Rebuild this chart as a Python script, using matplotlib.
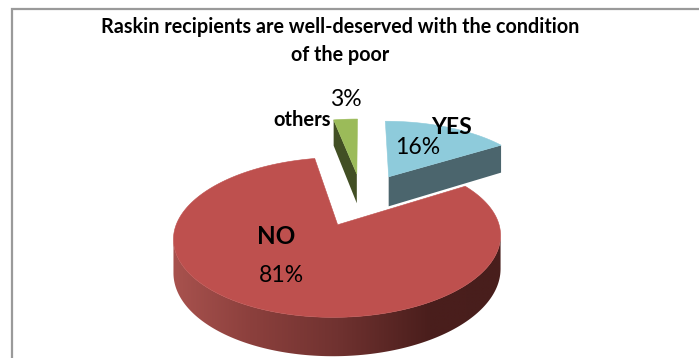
"""pie3d.py: exploded perspective pie of the Raskin survey answers."""
import numpy as np
import matplotlib
matplotlib.use("Agg")
import matplotlib.pyplot as plt
from matplotlib.colors import to_rgb
from matplotlib.patches import Polygon

categories = ["YES", "NO", "others"]
shares = [16, 81, 3]

TITLE = "Raskin recipients are well-deserved with the condition\nof the poor"

TOP_COLORS = ["#8ecbdb", "#be504e", "#9bbb59"]
SIDE_COLORS = ["#4b656d", None, "#424f24"]

# perspective camera, in pixels
CX, CY = 362, 199
SCALE_X, SCALE_Y = 153, 70
PERSP = 0.15
DEPTH = 31
EXPLODE = 0.38


def project(u, v, drop=0.0):
    w = 1 + PERSP * v
    return np.column_stack([CX + SCALE_X * u / w,
                            CY - SCALE_Y * v / w + drop * DEPTH / w])


def wall_gradient():
    # 1 x N image, lighter on the left and dark past the middle
    x = np.linspace(170, 506, 340)
    stops = [174, 250, 338, 430, 502]
    reds = [(168, 82, 78), (140, 64, 61), (112, 50, 48), (74, 30, 28), (72, 30, 28)]
    rgb = [np.interp(x, stops, [c[i] for c in reds]) / 255 for i in range(3)]
    return np.dstack(rgb).reshape(1, -1, 3), x


plt.rcParams["font.family"] = ["Lato", "DejaVu Sans"]
fig = plt.figure(figsize=(6.99, 3.58), dpi=100)
ax = fig.add_axes([0, 0, 1, 1])
ax.set_xlim(0, 699)
ax.set_ylim(358, 0)
ax.axis("off")

# chart frame, runs off the right and bottom
ax.plot([11.5, 11.5, 702], [360, 9, 9], color="#9a9a9a", lw=1.6, solid_joinstyle="miter")

# slices as angles clockwise from 12 o'clock
fractions = np.array(shares) / sum(shares)
edges = np.concatenate([[0], np.cumsum(fractions)]) * 2 * np.pi

# back to front: NO, others, YES
for i in [1, 2, 0]:
    t0, t1 = edges[i], edges[i + 1]
    mid = (t0 + t1) / 2
    off_u, off_v = EXPLODE * np.sin(mid), EXPLODE * np.cos(mid)
    theta = np.linspace(t0, t1, 240)
    u = off_u + np.sin(theta)
    v = off_v + np.cos(theta)
    rim_top = project(u, v)
    apex = project(np.array([off_u]), np.array([off_v]))
    apex_low = project(np.array([off_u]), np.array([off_v]), drop=1)

    if categories[i] == "NO":
        # rim wall, only the near part between the widest points
        rim_low = project(u, v, drop=1)
        k_r, k_l = rim_top[:, 0].argmax(), rim_top[:, 0].argmin()
        outline = np.vstack([rim_top[k_r:k_l + 1], rim_low[k_r:k_l + 1][::-1]])
        wall = Polygon(outline, facecolor="none", edgecolor="none")
        ax.add_patch(wall)
        grad, gx = wall_gradient()
        im = ax.imshow(grad, extent=[gx[0], gx[-1], 358, 150], aspect="auto", interpolation="bilinear")
        im.set_clip_path(wall)
        ax.set_xlim(0, 699)
        ax.set_ylim(358, 0)
    else:
        # cut face that looks towards the viewer
        t_face = t1 if categories[i] == "YES" else t0
        outer = project(off_u + np.sin([t_face]), off_v + np.cos([t_face]))
        outer_low = project(off_u + np.sin([t_face]), off_v + np.cos([t_face]), drop=1)
        face = np.vstack([apex, outer, outer_low, apex_low])
        ax.add_patch(Polygon(face, facecolor=to_rgb(SIDE_COLORS[i]), edgecolor="none"))

    top = np.vstack([apex, rim_top])
    ax.add_patch(Polygon(top, facecolor=TOP_COLORS[i], edgecolor=TOP_COLORS[i], lw=0.4))

ax.text(340, 41, TITLE, ha="center", va="center", fontsize=14.2, fontweight="bold",
        color="black", linespacing=1.5)

# names and percentages, placed by hand like the source chart
name_pos = {"YES": (452, 128), "NO": (276, 236), "others": (302, 120)}
name_size = {"YES": 16.5, "NO": 17.5, "others": 14.5}
pct_pos = {"YES": (418, 147), "NO": (281, 276), "others": (346, 100)}
for name, val in zip(categories, shares):
    ax.text(*name_pos[name], name, ha="center", va="center", fontsize=name_size[name],
            fontweight="bold", color="black")
    ax.text(*pct_pos[name], f"{val}%", ha="center", va="center", fontsize=16.6, color="black")

fig.savefig("out.png", dpi=100)
